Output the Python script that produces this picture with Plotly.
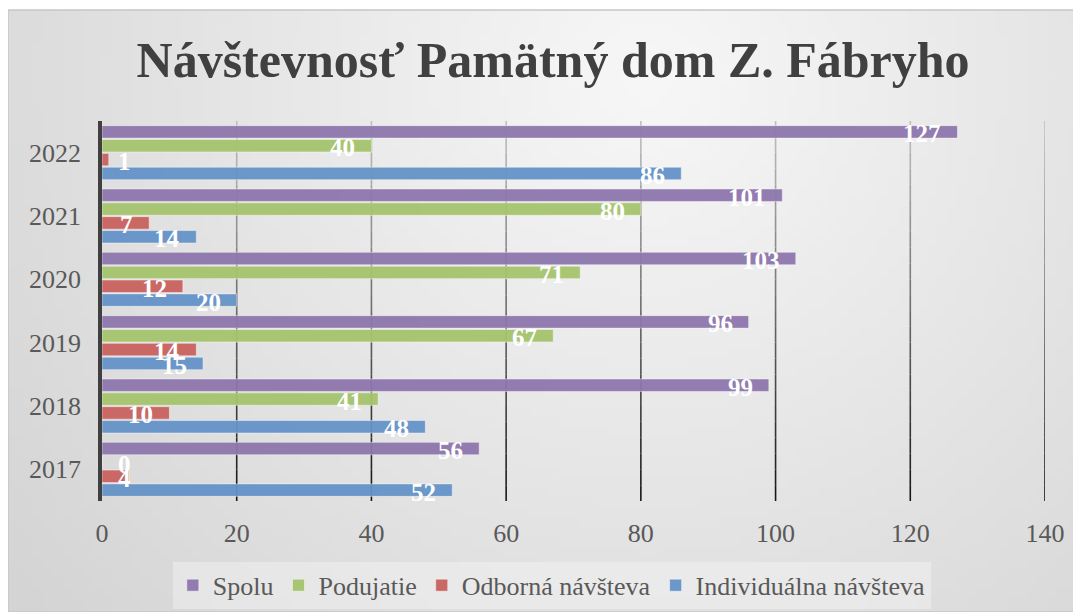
import base64
import struct
import zlib
import plotly.graph_objects as go

years = ["2017", "2018", "2019", "2020", "2021", "2022"]
spolu = [56, 99, 96, 103, 101, 127]
podujatie = [0, 41, 67, 71, 80, 40]
odborna = [4, 10, 14, 12, 7, 1]
individualna = [52, 48, 15, 20, 14, 86]

series_names = ["Individuálna návšteva", "Odborná návšteva", "Podujatie", "Spolu"]
series_values = [individualna, odborna, podujatie, spolu]
series_colors = ["#6593c8", "#c9625f", "#a5c46e", "#8e77ad"]

x_ticks = [0, 20, 40, 60, 80, 100, 120, 140]
title_text = "Návštevnosť Pamätný dom Z. Fábryho"

FONT = "Liberation Serif"
BARGAP = 0.125
GROUPGAP = 0.1


def gradient_png(w, h, cx, cy, light, dark, radius):
    rows = b""
    for yy in range(h):
        row = bytearray([0])
        for xx in range(w):
            d = ((xx - cx) ** 2 + (yy - cy) ** 2) ** 0.5
            t = min(1.0, d / radius)
            c = int(round(light - (light - dark) * t))
            row += bytes([c, c, c])
        rows += bytes(row)
    def chunk(tag, data):
        return struct.pack(">I", len(data)) + tag + data + struct.pack(">I", zlib.crc32(tag + data) & 0xffffffff)
    png = b"\x89PNG\r\n\x1a\n"
    png += chunk(b"IHDR", struct.pack(">IIBBBBB", w, h, 8, 2, 0, 0, 0))
    png += chunk(b"IDAT", zlib.compress(rows, 9))
    png += chunk(b"IEND", b"")
    return "data:image/png;base64," + base64.b64encode(png).decode()


fig = go.Figure()
for name, vals, col in zip(series_names, series_values, series_colors):
    fig.add_trace(go.Bar(
        y=years, x=vals, name=name, orientation="h",
        marker=dict(color=col, line=dict(color="rgba(255,255,255,0.45)", width=1)),
        opacity=0.95,
    ))

# data labels via annotations placed from the data
n = len(series_names)
slot = (1 - BARGAP) / n
annotations = []
for i, vals in enumerate(series_values):
    off = -(1 - BARGAP) / 2 + (i + 0.5) * slot
    for j, v in enumerate(vals):
        lab_font = dict(family=FONT, size=25, color="white", weight="bold")
        if v < 6:
            annotations.append(dict(x=0, y=j + off, xref="x", yref="y", text=str(v),
                                    showarrow=False, xanchor="left", xshift=14, yshift=-2,
                                    font=lab_font))
        else:
            annotations.append(dict(x=v, y=j + off, xref="x", yref="y", text=str(v),
                                    showarrow=False, xanchor="right", xshift=-14, yshift=-2,
                                    font=lab_font))

# chart-area rectangle in paper coordinates (extends into the margins)
RX0, RX1, RY0, RY1 = -0.0997, 1.038, -0.292, 1.292

shapes = [dict(type="rect", xref="paper", yref="paper",
               x0=RX0, x1=RX1, y0=RY0, y1=RY1,
               fillcolor="rgba(0,0,0,0)", line=dict(color="#c6c6c6", width=1.5), layer="below")]
# gradient gridlines (light at top, dark at bottom)
N = 24
for t in x_ticks[1:]:
    for k in range(N):
        f = (k + 0.5) / N  # 0 bottom .. 1 top
        c = int(20 + f * 175)
        shapes.append(dict(type="line", xref="x", yref="paper", x0=t, x1=t,
                           y0=k / N, y1=(k + 1) / N,
                           line=dict(color=f"rgb({c},{c},{c})", width=1.6), layer="below"))

bg = gradient_png(108, 60, 64, 6, 247, 212, 82)

fig.update_layout(
    width=1073, height=604,
    paper_bgcolor="white", plot_bgcolor="rgba(0,0,0,0)",
    margin=dict(l=94, r=36, t=113, b=111, autoexpand=False),
    barmode="group", bargap=BARGAP, bargroupgap=GROUPGAP,
    title=dict(text=title_text, x=0.508, xanchor="center", y=0.915, yanchor="middle",
               font=dict(family=FONT, size=50, color="#404040", weight="bold")),
    xaxis=dict(range=[0, 140], tickvals=x_ticks, showgrid=False, zeroline=False,
               showline=False, ticks="", ticklabelstandoff=14,
               tickfont=dict(family=FONT, size=26, color="#595959")),
    yaxis=dict(type="category", categoryorder="array", categoryarray=years,
               range=[-0.5, 5.5], showgrid=False, zeroline=False,
               showline=True, linecolor="#404040", linewidth=3.5, ticks="",
               ticklabelstandoff=12,
               tickfont=dict(family=FONT, size=26, color="#595959")),
    legend=dict(orientation="h", x=0.477, xanchor="center", y=-0.16, yanchor="top",
                traceorder="reversed", bgcolor="rgba(248,248,248,0.4)",
                font=dict(family=FONT, size=26, color="#595959"),
                itemwidth=30),
    images=[dict(source=bg, xref="paper", yref="paper", x=RX0, y=RY1,
                 sizex=RX1 - RX0, sizey=RY1 - RY0, sizing="stretch",
                 xanchor="left", yanchor="top", layer="below")],
    annotations=annotations,
    shapes=shapes,
    showlegend=True,
)

fig.write_html("out.html")
